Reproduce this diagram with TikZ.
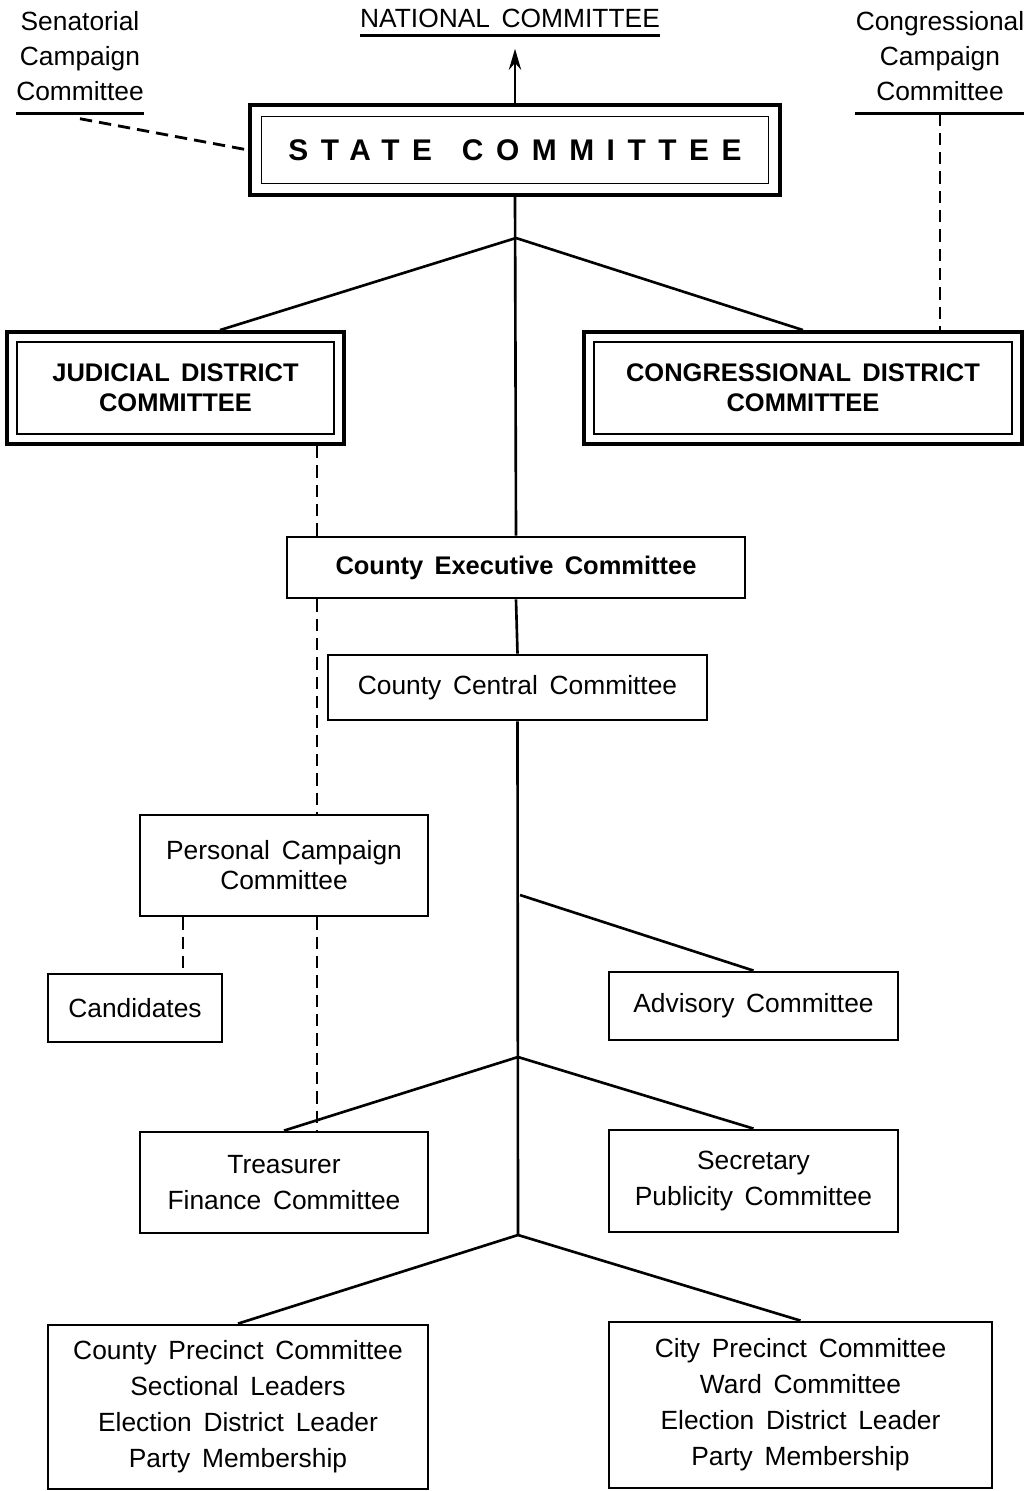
\documentclass[tikz,border=0pt]{standalone}
\usepackage{fontspec}
\setmainfont[WordSpace=1.6]{Liberation Sans}
\usetikzlibrary{positioning, arrows.meta}

\begin{document}
\begin{tikzpicture}[x=0.02cm, y=-0.02cm]
        % Define styles for shapes
        \tikzstyle{box} = [draw, line width=1.6pt, fill=white, align=center, font=\fontsize{15}{20}\selectfont]
        \tikzstyle{bigbox} = [draw, line width=2.2pt, fill=white, align=center, font=\bfseries\fontsize{14.5}{17}\selectfont]
        \tikzstyle{innerframe} = [line width=1pt]
        \tikzstyle{link} = [line width=1.5pt]
        \tikzstyle{dashlink} = [line width=1.6pt, dash pattern=on 7pt off 4pt]
        \tikzstyle{caption} = [inner sep=0pt, align=center, font=\fontsize{15}{20}\selectfont]

        \useasboundingbox (0,0) rectangle (1024,1491);

        % Draw shapes
        \node[caption] (national) at (510,18) {NATIONAL COMMITTEE};
        \node[caption] (sen) at (80,56) {Senatorial\\Campaign\\Committee};
        \node[caption] (ccamp) at (940,56) {Congressional\\Campaign\\Committee};

        \node[bigbox, minimum width=10.6cm, minimum height=1.8cm] (state) at (515,150)
            {\fontsize{17}{17}\selectfont\addfontfeature{LetterSpace=42}STATE\hspace{1em}COMMITTEE};
        \node[bigbox, minimum width=6.74cm, minimum height=2.24cm] (judicial) at (175.5,388)
            {JUDICIAL DISTRICT\\COMMITTEE};
        \node[bigbox, minimum width=8.76cm, minimum height=2.24cm] (congressional) at (803,388)
            {CONGRESSIONAL DISTRICT\\COMMITTEE};

        \node[box, minimum width=9.16cm, minimum height=1.22cm, font=\bfseries\fontsize{14.5}{20}\selectfont] (cec) at (516,567.5)
            {County Executive Committee};
        \node[box, minimum width=7.58cm, minimum height=1.3cm] (ccc) at (517.5,687.5)
            {County Central Committee};

        \node[box, minimum width=5.76cm, minimum height=2.02cm, font=\fontsize{15}{17}\selectfont] (personal) at (284,865.5)
            {Personal Campaign\\Committee};
        \node[box, minimum width=3.48cm, minimum height=1.36cm] (candidates) at (135,1008) {Candidates};
        \node[box, minimum width=5.78cm, minimum height=1.36cm] (advisory) at (753.5,1006) {Advisory Committee};

        \node[box, minimum width=5.76cm, minimum height=2.02cm] (treasurer) at (284,1182.5)
            {Treasurer\\Finance Committee};
        \node[box, minimum width=5.78cm, minimum height=2.04cm] (secretary) at (753.5,1181)
            {Secretary\\Publicity Committee};

        \node[box, minimum width=7.6cm, minimum height=3.28cm, font=\fontsize{15}{20.5}\selectfont] (countyprecinct) at (238,1407)
            {County Precinct Committee\\Sectional Leaders\\Election District Leader\\Party Membership};
        \node[box, minimum width=7.66cm, minimum height=3.32cm, font=\fontsize{15}{20.5}\selectfont] (cityprecinct) at (800.5,1405)
            {City Precinct Committee\\Ward Committee\\Election District Leader\\Party Membership};

        % Double frames
        \draw[innerframe] ([shift={(0.27cm,-0.27cm)}]state.north west) rectangle ([shift={(-0.27cm,0.27cm)}]state.south east);
        \draw[innerframe] ([shift={(0.24cm,-0.24cm)}]judicial.north west) rectangle ([shift={(-0.24cm,0.24cm)}]judicial.south east);
        \draw[innerframe] ([shift={(0.24cm,-0.24cm)}]congressional.north west) rectangle ([shift={(-0.24cm,0.24cm)}]congressional.south east);

        % Underlines
        \draw[link] ([yshift=-4.5pt]national.south west) -- ([yshift=-4.5pt]national.south east);
        \draw[link] ([yshift=-7pt]sen.south west) -- ([yshift=-7pt]sen.south east);
        \draw[link] ([yshift=-7pt]ccamp.south west) -- ([yshift=-7pt]ccamp.south east);

        % Branch points on the trunk
        \coordinate (b1) at (516,238);
        \coordinate (b2) at (520,895);
        \coordinate (b3) at (518,1057);
        \coordinate (b4) at (518,1235);

        % Draw lines
        \draw[link, -{Stealth[length=12pt, width=7pt]}] (state.north) -- ([yshift=-12pt]national.south -| state.north);
        \draw[link] (state.south) -- (cec.north);
        \draw[link] (cec.south) -- (ccc.north);
        \draw[link] (ccc.south) -- (b4);
        \draw[link] (b1) -- ([xshift=0.89cm]judicial.north);
        \draw[link] (b1) -- (congressional.north);
        \draw[link] (b2) -- (advisory.north);
        \draw[link] (b3) -- (treasurer.north);
        \draw[link] (b3) -- (secretary.north);
        \draw[link] (b4) -- (countyprecinct.north);
        \draw[link] (b4) -- (cityprecinct.north);

        % Draw dashed lines
        \draw[dashlink] ([yshift=-10pt]sen.south) -- (state.west);
        \draw[dashlink] ([yshift=-7pt]ccamp.south) -- (ccamp.south |- congressional.north);
        \draw[dashlink] ([xshift=-0.58cm]judicial.south east) -- ([xshift=-0.58cm]judicial.south east |- cec.north);
        \draw[dashlink] ([xshift=-0.58cm]judicial.south east |- cec.south) -- ([xshift=-0.58cm]judicial.south east |- personal.north);
        \draw[dashlink] ([xshift=-2.02cm]personal.south) -- ([xshift=-2.02cm]personal.south |- candidates.north);
        \draw[dashlink] ([xshift=0.66cm]personal.south) -- ([xshift=0.66cm]personal.south |- treasurer.north);
\end{tikzpicture}
\end{document}
